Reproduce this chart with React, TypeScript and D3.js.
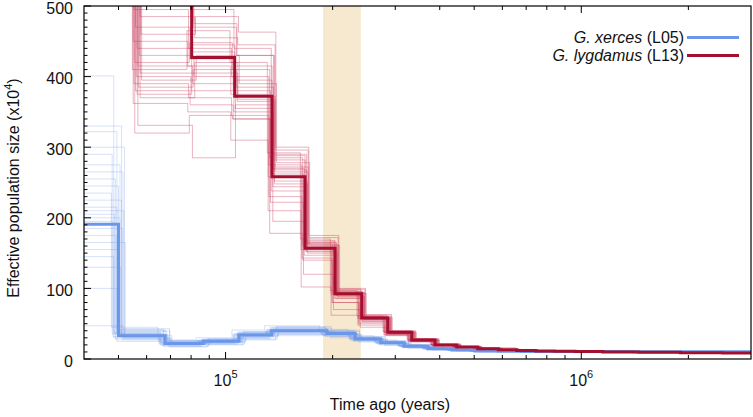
import React from "react";
import * as d3 from "d3";

// ---- main PSMC curves (time in years, Ne in units of 10^4) ----
const xercesTimes = [3e4, 50000, 67600, 86600, 109100, 134800, 192500, 231200, 273000, 317500, 370800, 433000, 502800, 583000, 677000, 785000, 912000, 1.1e6, 1.4e6, 1.9e6, 2.5e6];
const xercesNe = [191, 33, 22, 25, 34, 40, 36, 28.5, 23, 18, 14.6, 12.7, 11.3, 11, 10.8, 10.7, 10.6, 10.5, 10.4, 10.3, 10.2];

const lygdamusTimes = [3e4, 56400, 80300, 106100, 135100, 167300, 203100, 241400, 285700, 333800, 388000, 446500, 511700, 584400, 658500, 745000, 840000, 960000, 1.15e6, 1.45e6, 1.9e6, 2.5e6];
const lygdamusNe = [700, 700, 427, 372, 258, 157, 92.5, 58, 38, 27, 20, 17, 14.6, 13.2, 12.2, 11.5, 11, 10.5, 10, 9.5, 9, 8.5];

// ---- bootstrap replicates (first segments; later segments follow the main curve) ----
const xercesBootScale = [0.97, 1.02, 0.99, 1.04, 0.96, 1.01, 1.03, 0.98, 1.0, 0.955, 1.02, 0.99, 1.035, 0.975, 1.01, 0.965, 1.025, 0.985, 1.045, 1.0, 0.97, 1.015, 0.99, 1.03];
const xercesBoot = [
  [401, 38, 24, 27, 36, 42, 38, 30, 24, 19, 15, 13, 11.5],
  [330, 35, 21, 24, 33, 40, 36, 29, 23, 18, 14.5, 12.5, 11],
  [322, 42, 26, 28, 38, 45, 40, 31, 25, 20, 16, 13.5, 12],
  [300, 30, 20, 23, 31, 38, 34, 27, 22, 17, 14, 12, 11],
  [290, 36, 23, 26, 35, 41, 37, 29, 24, 19, 15, 13, 11.5],
  [275, 33, 22, 25, 34, 39, 35, 28, 23, 18, 14.5, 12.5, 11],
  [265, 40, 25, 27, 37, 44, 39, 31, 25, 20, 16, 13.5, 12],
  [255, 28, 19, 22, 30, 36, 33, 26, 21, 17, 14, 12, 10.5],
  [245, 34, 22, 25, 34, 40, 36, 28, 23, 18, 14.5, 12.5, 11.2],
  [235, 45, 27, 30, 41, 47, 42, 33, 27, 21, 17, 14.5, 13],
  [225, 31, 21, 24, 32, 38, 35, 28, 22, 18, 14.5, 12.5, 11],
  [215, 37, 23, 26, 36, 42, 38, 30, 24, 19, 15.5, 13, 11.5],
  [210, 29, 18, 21, 28, 35, 32, 26, 21, 16.5, 13.5, 12, 10.5],
  [205, 35, 22, 25, 34, 40, 36, 29, 23, 18, 14.8, 12.8, 11.3],
  [200, 39, 24, 27, 37, 43, 39, 30, 24, 19, 15.5, 13.2, 11.8],
  [195, 32, 21, 24, 33, 39, 35, 28, 22.5, 18, 14.5, 12.5, 11],
  [185, 27, 17, 20, 27, 33, 30, 24, 19, 15, 12.5, 11, 10],
  [175, 36, 23, 26, 35, 41, 37, 29, 23.5, 18.5, 15, 13, 11.5],
  [165, 33, 22, 25, 33, 39, 35, 28, 23, 18, 14.6, 12.7, 11.3],
  [155, 41, 25, 28, 38, 44, 40, 31, 25, 19.5, 15.5, 13.2, 11.8],
  [145, 30, 20, 23, 31, 37, 34, 27, 22, 17.5, 14, 12.2, 10.8],
  [130, 34, 22, 25, 34, 40, 36, 29, 23, 18, 14.6, 12.7, 11.3],
  [100, 25, 18, 21, 29, 35, 32, 25, 20, 16, 13, 11.5, 10.3],
  [47, 43, 26, 29, 39, 46, 41, 32, 26, 20.5, 16.5, 14, 12.5],
];

const lygdamusBootScale = [1.01, 0.98, 1.02, 0.99, 1.025, 0.975, 1.0, 1.015, 0.985, 1.005, 0.97, 1.02, 0.995, 1.03, 0.98, 1.01, 0.99, 1.0, 1.02, 0.975, 1.005, 0.985, 1.015, 0.995];
const lygdamusBoot = [
  [600, 470, 430, 290, 165, 95, 60, 38, 27, 20, 17, 14.5, 13],
  [495, 440, 400, 275, 160, 93, 58, 37, 26.5, 20, 17, 14.5, 13],
  [485, 455, 445, 296, 172, 98, 61, 39, 28, 21, 17.5, 15, 13.5],
  [470, 425, 380, 262, 157, 92, 57, 37, 27, 20, 17, 14.6, 13.2],
  [460, 485, 463, 300, 175, 100, 63, 40, 29, 21.5, 18, 15.5, 14],
  [450, 415, 375, 258, 155, 91, 57, 38, 27, 20, 17, 14.6, 13.2],
  [440, 435, 395, 282, 168, 96, 59, 39, 27.5, 20.5, 17, 14.8, 13.4],
  [430, 400, 365, 248, 150, 88, 56, 36, 26, 19.5, 16.5, 14, 12.8],
  [420, 448, 410, 285, 163, 94, 60, 38, 27, 20, 17, 14.6, 13.2],
  [415, 390, 355, 244, 153, 90, 55, 36, 26, 19.5, 16.5, 14.2, 12.8],
  [410, 465, 420, 292, 170, 97, 61, 39, 28, 20.5, 17.5, 15, 13.5],
  [405, 420, 372, 265, 159, 92, 58, 38, 27, 20, 17, 14.6, 13.2],
  [400, 380, 350, 238, 147, 86, 54, 35, 25.5, 19, 16.5, 14, 12.5],
  [395, 430, 390, 278, 161, 93, 59, 38, 27, 20, 17, 14.6, 13.2],
  [390, 370, 345, 230, 143, 80, 50, 34, 25, 19, 16, 14, 12.5],
  [385, 410, 385, 268, 158, 91, 58, 37, 27, 20, 17, 14.6, 13.2],
  [380, 360, 340, 222, 120, 70, 45, 33, 24, 18.5, 16, 14, 12.5],
  [375, 445, 415, 288, 166, 95, 60, 39, 28, 20.5, 17, 14.8, 13.4],
  [370, 405, 368, 272, 162, 94, 58, 37, 27, 20, 17, 14.6, 13.2],
  [362, 350, 310, 210, 102, 62, 48, 34, 25, 19, 16, 14, 12.5],
  [331, 285, 360, 195, 152, 86, 53, 36, 26, 19.5, 16.5, 14.2, 12.8],
  [320, 345, 340, 178, 140, 80, 52, 35, 25.5, 19, 16.5, 14, 12.7],
  [530, 475, 430, 252, 156, 89, 56, 37, 26.5, 20, 17, 14.6, 13.2],
  [560, 495, 440, 270, 164, 99, 62, 40, 28.5, 21, 18, 16, 16],
];

// ---- axes / annotation ----
const xDomain = [4e4, 3e6];
const yDomain = [0, 500];
const xMajorTicks = [1e5, 1e6];
const xMajorExp = ["5", "6"];
const xMinorTicks = [5e4, 6e4, 7e4, 8e4, 9e4, 2e5, 3e5, 4e5, 5e5, 6e5, 7e5, 8e5, 9e5, 2e6];
const yLabels = [0, 100, 200, 300, 400, 500];
const shadeRange = [1.88e5, 2.4e5];

const BLUE = "#6a97ea";
const RED = "#a50f2f";
const FONT = "'Liberation Sans', Arial, Helvetica, sans-serif";

export default function App() {
  const L = 84, R = 751, T = 6, B = 359;
  const x = d3.scaleLog().domain(xDomain).range([L, R]);
  const y = d3.scaleLinear().domain(yDomain).range([B, T]);
  const line = d3
    .line<[number, number]>()
    .x((d) => x(d[0]))
    .y((d) => y(d[1]))
    .curve(d3.curveStepAfter);

  const steps = (times: number[], vals: number[], k = 1): [number, number][] => {
    const pts: [number, number][] = times.map((t, i) => [t * k, vals[i]]);
    pts.push([3.3e6, vals[vals.length - 1]]);
    return pts;
  };

  const xBootPaths = xercesBoot.map((row, i) =>
    line(steps(xercesTimes, [...row, ...xercesNe.slice(row.length)], xercesBootScale[i]))
  );
  const lBootPaths = lygdamusBoot.map((row, i) =>
    line(steps(lygdamusTimes, [lygdamusNe[0], ...row, ...lygdamusNe.slice(row.length + 1)], lygdamusBootScale[i]))
  );

  const yTicks = d3.range(0, 501, 10);

  return (
    <svg width={753} height={417} style={{ position: "absolute", left: 0, top: 0, background: "#fff" }} fontFamily={FONT}>
      <defs>
        <clipPath id="plot">
          <rect x={L} y={T} width={R - L} height={B - T} />
        </clipPath>
      </defs>
      <rect x={x(shadeRange[0])} y={T} width={x(shadeRange[1]) - x(shadeRange[0])} height={B - T} fill="#f7e8d0" />
      <g clipPath="url(#plot)" fill="none">
        {xBootPaths.map((d, i) => (
          <path key={"xb" + i} d={d || ""} stroke={BLUE} strokeOpacity={0.28} strokeWidth={1} />
        ))}
        {lBootPaths.map((d, i) => (
          <path key={"lb" + i} d={d || ""} stroke="#c8385a" strokeOpacity={0.38} strokeWidth={1} />
        ))}
        <path d={line(steps(xercesTimes, xercesNe)) || ""} stroke={BLUE} strokeWidth={3} />
        <path d={line(steps(lygdamusTimes, lygdamusNe)) || ""} stroke={RED} strokeWidth={3} />
      </g>
      {/* frame */}
      <rect x={L} y={T} width={R - L} height={B - T} fill="none" stroke="#000" strokeWidth={1.2} />
      {/* x ticks */}
      {xMinorTicks.map((t) => (
        <g key={"xm" + t}>
          <line x1={x(t)} x2={x(t)} y1={B} y2={B - 4} stroke="#000" />
          <line x1={x(t)} x2={x(t)} y1={T} y2={T + 4} stroke="#000" />
        </g>
      ))}
      {xMajorTicks.map((t, i) => (
        <g key={"xM" + t}>
          <line x1={x(t)} x2={x(t)} y1={B} y2={B - 7} stroke="#000" />
          <line x1={x(t)} x2={x(t)} y1={T} y2={T + 7} stroke="#000" />
          <text x={x(t)} y={386} textAnchor="middle" fontSize={16} fill="#111">
            10<tspan dy={-8} fontSize={11}>{xMajorExp[i]}</tspan>
          </text>
        </g>
      ))}
      {/* y ticks */}
      {yTicks.map((v) => (
        <line key={"y" + v} x1={L} x2={L + (v % 100 === 0 ? 7 : 3.5)} y1={y(v)} y2={y(v)} stroke="#000" />
      ))}
      {yLabels.map((v) => (
        <text key={"yl" + v} x={73} y={y(v) + 2} dy="0.35em" textAnchor="end" fontSize={16} fill="#111">
          {v}
        </text>
      ))}
      {/* axis titles */}
      <text x={390} y={410} textAnchor="middle" fontSize={16} fill="#111">
        Time ago (years)
      </text>
      <text transform={`translate(19,188) rotate(-90)`} textAnchor="middle" fontSize={16} fill="#111">
        Effective population size (x10<tspan dy={-7} fontSize={11}>4</tspan>
        <tspan dy={7}>)</tspan>
      </text>
      {/* legend */}
      <text x={684} y={43} textAnchor="end" fontSize={16} fill="#111">
        <tspan fontStyle="italic">G. xerces</tspan> (L05)
      </text>
      <line x1={687} x2={739} y1={37.5} y2={37.5} stroke={BLUE} strokeWidth={3} />
      <text x={684} y={61} textAnchor="end" fontSize={16} fill="#111">
        <tspan fontStyle="italic">G. lygdamus</tspan> (L13)
      </text>
      <line x1={687} x2={739} y1={55.5} y2={55.5} stroke={RED} strokeWidth={3} />
    </svg>
  );
}
